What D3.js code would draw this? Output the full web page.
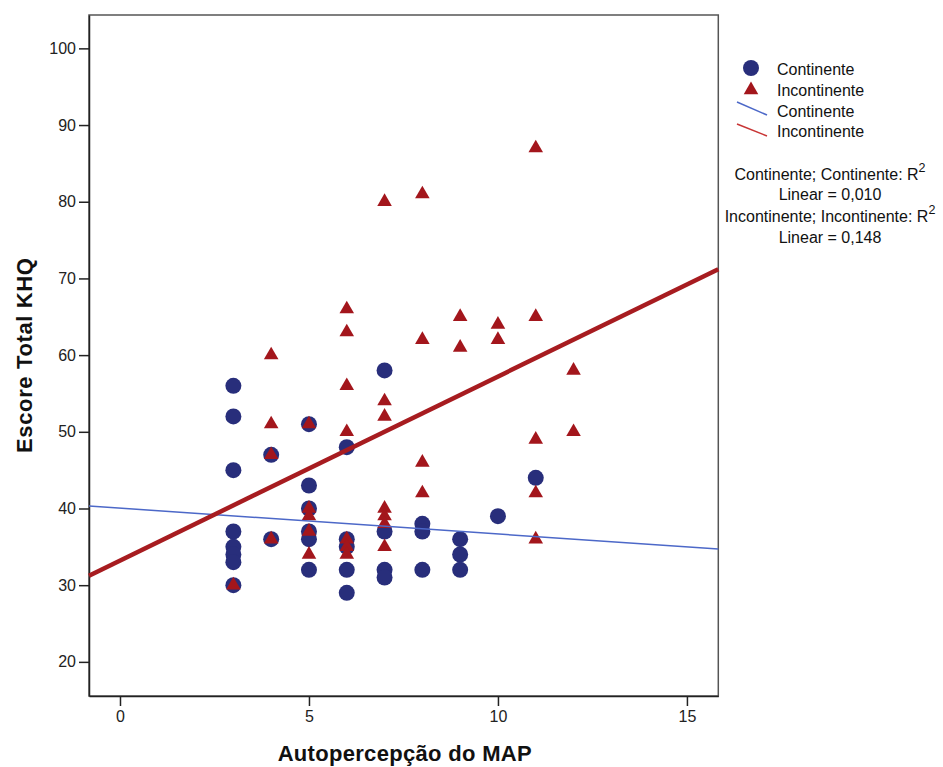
<!DOCTYPE html>
<html>
<head>
<meta charset="utf-8">
<script src="https://cdn.jsdelivr.net/npm/d3@7"></script>
<style>
  html, body { margin: 0; padding: 0; background: #fff; }
  svg { display: block; font-family: "Liberation Sans", Arial, sans-serif; }
</style>
</head>
<body>
<svg id="chart" width="943" height="767"></svg>
<script>
// Autopercepção do MAP (x) vs. Escore Total KHQ (y), by group
const contX = [3,3,3,3,3,3,3,3, 4,4, 5,5,5,5,5,5, 6,6,6,6,6, 7,7,7,7, 8,8,8, 9,9,9, 10, 11];
const contY = [56,52,45,37,35,34,33,30, 47,36, 51,43,40,37,36,32, 48,36,35,32,29, 58,37,32,31, 38,37,32, 36,34,32, 39, 44];

const incX = [3, 4,4,4,4, 5,5,5,5,5, 6,6,6,6,6,6,6, 7,7,7,7,7,7,7, 8,8,8,8, 9,9, 10,10, 11,11,11,11,11, 12,12];
const incY = [30, 60,51,47,36, 51,40,39,37,34, 66,63,56,50,36,35,34, 80,54,52,40,39,38,35, 81,62,46,42, 65,61, 64,62, 87,65,49,42,36, 58,50];

// Linear fit lines: Continente, Incontinente
const fitNames = ["Continente", "Incontinente"];
const fitIntercepts = [40.05, 33.21];
const fitSlopes = [-0.337, 2.40];
const fitR2 = ["0,010", "0,148"];

const xTicks = [0, 5, 10, 15];
const yTicks = [20, 30, 40, 50, 60, 70, 80, 90, 100];
const xDomain = [-0.82, 15.83];
const yDomain = [15.55, 104.35];

const COL_CONT = "#282e7b";
const COL_INC = "#a3161c";
const COL_FIT_CONT = "#4c68c8";
const COL_FIT_INC = "#a71c20";

const svg = d3.select("#chart");
const L = 89, R = 718.3, T = 15, B = 696;

const x = d3.scaleLinear().domain(xDomain).range([L, R]);
const y = d3.scaleLinear().domain(yDomain).range([B, T]);

// plot frame
svg.append("rect")
  .attr("x", L).attr("y", T).attr("width", R - L).attr("height", B - T)
  .attr("fill", "none").attr("stroke", "#555").attr("stroke-width", 1.5);

// axes
const yAxis = svg.append("g").attr("transform", `translate(${L},0)`)
  .call(d3.axisLeft(y).tickValues(yTicks).tickSize(10).tickSizeOuter(0).tickPadding(3));
const xAxis = svg.append("g").attr("transform", `translate(0,${B})`)
  .call(d3.axisBottom(x).tickValues(xTicks).tickSize(10).tickSizeOuter(0).tickPadding(5));
[yAxis, xAxis].forEach(g => {
  g.select(".domain").attr("stroke", "#222").attr("stroke-width", 1.5);
  g.selectAll(".tick line").attr("stroke", "#222").attr("stroke-width", 1.5);
  g.selectAll(".tick text").attr("fill", "#222")
    .style("font-size", "16px").style("font-family", "'Liberation Sans', Arial, sans-serif");
});

// axis titles
svg.append("text")
  .attr("x", (L + R) / 2 + 1).attr("y", 761)
  .attr("text-anchor", "middle")
  .style("font-size", "22px").style("font-weight", "bold").attr("fill", "#111")
  .attr("textLength", 254).attr("lengthAdjust", "spacing")
  .text("Autopercepção do MAP");
svg.append("text")
  .attr("transform", `translate(32,${(T + B) / 2}) rotate(-90)`)
  .attr("text-anchor", "middle")
  .style("font-size", "22px").style("font-weight", "bold").attr("fill", "#111")
  .attr("textLength", 195).attr("lengthAdjust", "spacing")
  .text("Escore Total KHQ");

// points
const plot = svg.append("g");
const circleSym = d3.symbol().type(d3.symbolCircle).size(Math.PI * 64);
const triSym = d3.symbol().type(d3.symbolTriangle).size(92);

plot.selectAll("path.cont")
  .data(d3.range(contX.length))
  .join("path").attr("class", "cont")
  .attr("d", circleSym)
  .attr("transform", i => `translate(${x(contX[i])},${y(contY[i])})`)
  .attr("fill", COL_CONT);

plot.selectAll("path.inc")
  .data(d3.range(incX.length))
  .join("path").attr("class", "inc")
  .attr("d", triSym)
  .attr("transform", i => `translate(${x(incX[i])},${y(incY[i])})`)
  .attr("fill", COL_INC);

// fit lines across the full x range
const fitCols = [COL_FIT_CONT, COL_FIT_INC];
const fitWidths = [1.5, 4.5];
fitNames.forEach((n, k) => {
  const f = v => fitIntercepts[k] + fitSlopes[k] * v;
  svg.append("line")
    .attr("x1", x(xDomain[0])).attr("y1", y(f(xDomain[0])))
    .attr("x2", x(xDomain[1])).attr("y2", y(f(xDomain[1])))
    .attr("stroke", fitCols[k]).attr("stroke-width", fitWidths[k]);
});

// legend
const lg = svg.append("g").style("font-size", "16px").attr("fill", "#111");
lg.append("path").attr("d", circleSym).attr("transform", "translate(751,68)").attr("fill", COL_CONT);
lg.append("path").attr("d", triSym).attr("transform", "translate(751,90)").attr("fill", COL_INC);
lg.append("line").attr("x1", 737).attr("y1", 102).attr("x2", 767).attr("y2", 115)
  .attr("stroke", COL_FIT_CONT).attr("stroke-width", 1.5);
lg.append("line").attr("x1", 737).attr("y1", 124).attr("x2", 767).attr("y2", 136)
  .attr("stroke", "#c83535").attr("stroke-width", 1.5);
const legendLabels = ["Continente", "Incontinente", fitNames[0], fitNames[1]];
const legendBase = [75, 96, 117, 137];
legendLabels.forEach((t, i) => {
  lg.append("text").attr("x", 777).attr("y", legendBase[i]).text(t);
});

// R² notes
const r2Base = [180, 200, 221.5, 242.5];
fitNames.forEach((n, k) => {
  const t1 = lg.append("text").attr("x", 830).attr("y", r2Base[2 * k]).attr("text-anchor", "middle");
  t1.append("tspan").text(`${n}; ${n}: R`);
  t1.append("tspan").attr("dy", -8).style("font-size", "12.5px").text("2");
  lg.append("text").attr("x", 830).attr("y", r2Base[2 * k + 1]).attr("text-anchor", "middle")
    .text(`Linear = ${fitR2[k]}`);
});
</script>
</body>
</html>
